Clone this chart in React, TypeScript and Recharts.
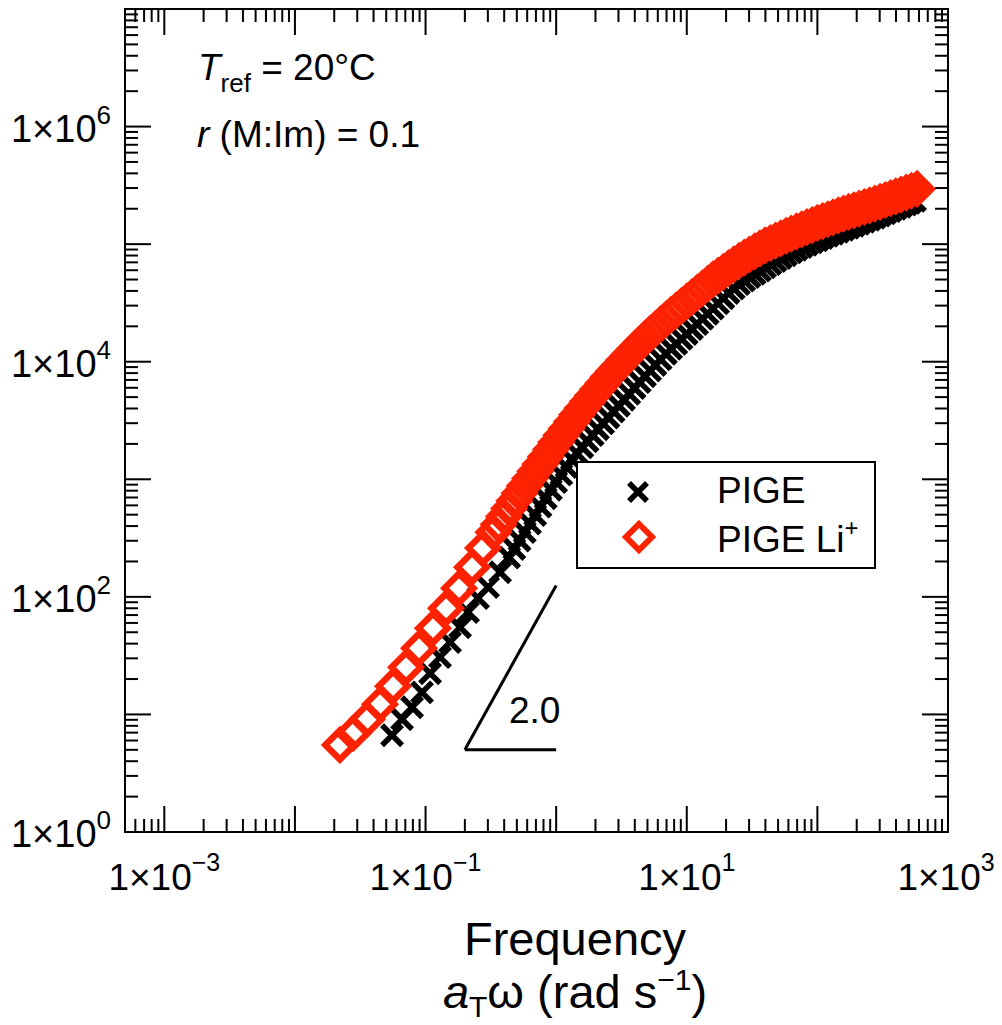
import React from 'react';
import { ScatterChart, Scatter, XAxis, YAxis, ReferenceLine, ReferenceArea } from 'recharts';

// PIGE (black crosses)
const PIGE_FREQ = [
  0.0554, 0.0661, 0.0788, 0.094, 0.1083, 0.1291, 0.154, 0.1837, 0.2116, 0.2523, 0.301, 0.372,
  0.4365, 0.5248, 0.631, 0.7586, 0.912, 1.096, 1.318, 1.585, 1.905, 2.291, 2.754, 3.311,
  3.981, 4.786, 5.754, 6.918, 8.318, 10, 12.02, 14.45, 17.38, 20.89, 25.12, 30.2, 36.31,
  43.65, 52.48, 63.1, 75.86, 91.2, 109.6, 131.8, 158.5, 190.5, 229.1, 275.4, 331.1, 398.1,
  478.6, 559.8,
];
const PIGE_MOD = [
  6.65, 9.1, 11.5, 15.4, 22.4, 30.7, 41.2, 55.2, 74.1, 97.5, 121, 162,
  216.3, 301.3, 419.8, 584.8, 814.7, 1096, 1472, 1871, 2377, 2992, 3767, 4742,
  5970, 7516, 9376, 11700, 14190, 17220, 20890, 25590, 31330, 38370, 45710, 52480, 59570,
  67610, 76210, 85110, 94410, 103500, 112700, 122500, 132400, 143200, 154900, 167900, 182800, 199500,
  216800, 233300,
];
// overlapping points from the other shifted segments
const PIGE_FREQ_B = [
  0.4786, 0.5754, 0.6918, 0.8318, 1.0, 1.202, 1.445, 1.738, 2.089, 2.512, 3.02, 3.631,
  4.365, 5.248, 6.31, 7.586, 9.12, 10.96, 13.18, 15.85, 19.05, 22.91, 27.54, 33.11,
  39.81, 47.86, 57.54, 69.18, 83.18, 100, 120.2, 144.5, 173.8, 208.9, 251.2, 302,
  363.1, 436.5, 512.9,
];
const PIGE_MOD_B = [
  255.3, 355.6, 495.5, 690.2, 945, 1271, 1660, 2109, 2667, 3357, 4227, 5321,
  6699, 8395, 10470, 12880, 15630, 18970, 23120, 28310, 34670, 41880, 48980, 55910,
  63460, 71780, 80540, 89640, 98850, 108000, 117500, 127400, 137700, 148900, 161300, 175200,
  191000, 208000, 224900,
];

// PIGE Li+ (red diamonds)
const LI_FREQ = [
  0.0221, 0.0279, 0.0357, 0.0448, 0.0564, 0.0709, 0.0892, 0.114, 0.1436, 0.1805, 0.227, 0.2754,
  0.331, 0.398, 0.479, 0.575, 0.692, 0.832, 1.0, 1.202, 1.445, 1.738, 2.089, 2.512, 3.02,
  3.631, 4.365, 5.248, 6.31, 7.586, 9.12, 10.96, 13.18, 15.85, 19.05, 22.91, 27.54, 33.11,
  39.81, 47.86, 57.54, 69.18, 83.18, 100, 120.2, 144.5, 173.8, 208.9, 251.2, 302, 363.1,
  436.5, 524.8, 579.4,
];
const LI_MOD = [
  5.5, 6.92, 9.1, 12.2, 17.4, 25.2, 36.6, 54.2, 80.1, 118.6, 179, 260,
  354, 482, 658, 879, 1169, 1556, 2070, 2704, 3532, 4560, 5821, 7413, 9247,
  11530, 14220, 17380, 20890, 25120, 29850, 35480, 42170, 50120, 58080, 67300, 76910, 86700,
  97720, 107200, 117500, 128200, 139300, 151400, 162900, 175400, 187900, 200400, 213800, 229100, 246000,
  264200, 284400, 295100,
];
const LI_FREQ_B = [
  0.363, 0.4365, 0.5248, 0.631, 0.7586, 0.912, 1.096, 1.318, 1.585, 1.905, 2.291, 2.754,
  3.311, 3.981, 4.786, 5.754, 6.918, 8.318, 10, 12.02, 14.45, 17.38, 20.89, 25.12,
  30.2, 36.31, 43.65, 52.48, 63.1, 75.86, 91.2, 109.6, 131.8, 158.5, 190.5, 229.1,
  275.4, 331.1, 398.1, 478.6,
];
const LI_MOD_B = [
  413, 564, 762, 1014, 1349, 1795, 2366, 3090, 4013, 5152, 6569, 8279,
  10330, 12810, 15720, 19050, 22910, 27380, 32550, 38680, 45970, 53950, 62520, 71940,
  81660, 92040, 102300, 112200, 122700, 133700, 145200, 157000, 169000, 181600, 194100, 207000,
  221300, 237400, 255000, 274200,
];

// axes
const X_DOMAIN = [5e-4, 1e3];
const Y_DOMAIN = [1, 1e7];
const X_DECADES = [1e-4, 1e-3, 1e-2, 1e-1, 1, 1e1, 1e2, 1e3];
const Y_DECADES = [1, 1e1, 1e2, 1e3, 1e4, 1e5, 1e6, 1e7];
const X_LABELS: Record<number, string> = { [-3]: '−3', [-1]: '−1', 1: '1', 3: '3' };
const Y_LABELS: Record<number, string> = { 0: '0', 2: '2', 4: '4', 6: '6' };
// slope triangle corners
const SLOPE_X = [0.2, 1];
const SLOPE_Y = [5, 125];

const RED = '#ff2200';
const FONT = '"Liberation Sans", Arial, Helvetica, sans-serif';

const W = 994;
const H = 1017;
const PLOT_H = 823;

const withMinors = (decades: number[], lo: number, hi: number) => {
  const out: number[] = [];
  decades.forEach((d) => {
    for (let m = 1; m <= 9; m++) {
      const v = d * m;
      if (v >= lo * 0.999 && v <= hi * 1.001) out.push(v);
    }
  });
  return out;
};

const X_TICKS = withMinors(X_DECADES, X_DOMAIN[0], X_DOMAIN[1]);
const Y_TICKS = withMinors(Y_DECADES, Y_DOMAIN[0], Y_DOMAIN[1]);

const zip = (xs: number[], ys: number[]) => xs.map((x, i) => ({ x, y: ys[i] }));
const pigeData = [...zip(PIGE_FREQ, PIGE_MOD), ...zip(PIGE_FREQ_B, PIGE_MOD_B)];
const liData = [...zip(LI_FREQ, LI_MOD), ...zip(LI_FREQ_B, LI_MOD_B)];

const isMajor = (v: number) => {
  const e = Math.log10(v);
  return Math.abs(e - Math.round(e)) < 1e-6;
};

function XTick(props: any) {
  const { x, y, payload } = props;
  const v = payload.value;
  const major = isMajor(v);
  const len = major ? 26 : 13;
  const top = y - PLOT_H;
  const exp = Math.round(Math.log10(v));
  const label = major ? X_LABELS[exp] : undefined;
  return (
    <g>
      <line x1={x} y1={y} x2={x} y2={y - len} stroke="#000" strokeWidth={2} />
      <line x1={x} y1={top} x2={x} y2={top + len} stroke="#000" strokeWidth={2} />
      {label && (
        <text x={exp === 3 ? x - 2 : x} y={y + 58} textAnchor="middle" fontSize={37} fontFamily={FONT} fill="#000">
          1×10<tspan dy={-19} fontSize={25}>{label}</tspan>
        </text>
      )}
    </g>
  );
}

function YTick(props: any) {
  const { x, y, payload } = props;
  const v = payload.value;
  const major = isMajor(v);
  const len = major ? 26 : 13;
  const right = x + 823;
  const exp = Math.round(Math.log10(v));
  const label = major ? Y_LABELS[exp] : undefined;
  return (
    <g>
      <line x1={x} y1={y} x2={x + len} y2={y} stroke="#000" strokeWidth={2} />
      <line x1={right} y1={y} x2={right - len} y2={y} stroke="#000" strokeWidth={2} />
      {label && (
        <text x={x - 14} y={y + 15} textAnchor="end" fontSize={38} fontFamily={FONT} fill="#000">
          1×10<tspan dy={-18} fontSize={26}>{label}</tspan>
        </text>
      )}
    </g>
  );
}

const Cross = ({ cx, cy, s = 10, w = 5.5 }: any) => (
  <g>
    <line x1={cx - s} y1={cy - s} x2={cx + s} y2={cy + s} stroke="#000" strokeWidth={w} />
    <line x1={cx - s} y1={cy + s} x2={cx + s} y2={cy - s} stroke="#000" strokeWidth={w} />
  </g>
);

const Diamond = ({ cx, cy, h = 14.5, w = 6.5 }: any) => (
  <path
    d={`M${cx},${cy - h} L${cx + h},${cy} L${cx},${cy + h} L${cx - h},${cy} Z`}
    fill="none"
    stroke={RED}
    strokeWidth={w}
  />
);

export default function App() {
  return (
    <div style={{ position: 'relative', width: W, height: H, fontFamily: FONT }}>
      <ScatterChart width={W} height={H} margin={{ top: 1, right: 54, left: 0, bottom: 0 }}>
        <XAxis
          type="number"
          dataKey="x"
          scale="log"
          domain={X_DOMAIN}
          allowDataOverflow
          ticks={X_TICKS}
          interval={0}
          tick={(p: any) => <XTick {...p} />}
          tickLine={false}
          axisLine={false}
          tickSize={0}
          tickMargin={0}
          height={193}
        />
        <YAxis
          type="number"
          dataKey="y"
          scale="log"
          domain={Y_DOMAIN}
          allowDataOverflow
          ticks={Y_TICKS}
          interval={0}
          tick={(p: any) => <YTick {...p} />}
          tickLine={false}
          axisLine={false}
          tickSize={0}
          tickMargin={0}
          width={117}
        />
        <ReferenceArea
          x1={X_DOMAIN[0]}
          x2={X_DOMAIN[1]}
          y1={Y_DOMAIN[0]}
          y2={Y_DOMAIN[1]}
          fill="none"
          fillOpacity={0}
          stroke="#000"
          strokeWidth={2}
          ifOverflow="visible"
        />
        <ReferenceLine
          segment={[{ x: SLOPE_X[0], y: SLOPE_Y[0] }, { x: SLOPE_X[1], y: SLOPE_Y[1] }]}
          stroke="#000"
          strokeWidth={3}
        />
        <ReferenceLine
          segment={[{ x: SLOPE_X[0], y: SLOPE_Y[0] }, { x: SLOPE_X[1], y: SLOPE_Y[0] }]}
          stroke="#000"
          strokeWidth={3}
        />
        <Scatter name="PIGE" data={pigeData} shape={(p: any) => <Cross cx={p.cx} cy={p.cy} />} isAnimationActive={false} />
        <Scatter name="PIGE Li+" data={liData} shape={(p: any) => <Diamond cx={p.cx} cy={p.cy} />} isAnimationActive={false} />
      </ScatterChart>

      <svg
        width={W}
        height={H}
        style={{ position: 'absolute', left: 0, top: 0, pointerEvents: 'none' }}
        fontFamily={FONT}
      >
        <text x={190} y={72} fontSize={37} fill="#000">
          <tspan fontStyle="italic">T</tspan>
          <tspan fontSize={26} dy={12}>ref</tspan>
          <tspan dy={-12}> = 20°C</tspan>
        </text>
        <text x={189} y={139} fontSize={37} fill="#000">
          <tspan fontStyle="italic">r</tspan> (M:Im) = 0.1
        </text>
        <text x={501} y={715} fontSize={37} fill="#000">2.0</text>

        {/* legend */}
        <rect x={569} y={454} width={298} height={106} fill="#fff" stroke="#000" strokeWidth={2} />
        <Cross cx={630} cy={484} s={9} w={5.5} />
        <Diamond cx={631} cy={529} h={13} w={6} />
        <text x={709} y={495} fontSize={37} fill="#000">PIGE</text>
        <text x={709} y={544} fontSize={37} fill="#000">
          PIGE Li<tspan dy={-16} fontSize={24}>+</tspan>
        </text>

        {/* x axis title */}
        <text x={567} y={947} fontSize={47} textAnchor="middle" fill="#000">Frequency</text>
        <text x={567} y={1000} fontSize={47} textAnchor="middle" fill="#000">
          <tspan fontStyle="italic">a</tspan>
          <tspan fontSize={30} dy={9}>T</tspan>
          <tspan dy={-9}>ω (rad s</tspan>
          <tspan fontSize={30} dy={-18}>−1</tspan>
          <tspan dy={18}>)</tspan>
        </text>
      </svg>
    </div>
  );
}
